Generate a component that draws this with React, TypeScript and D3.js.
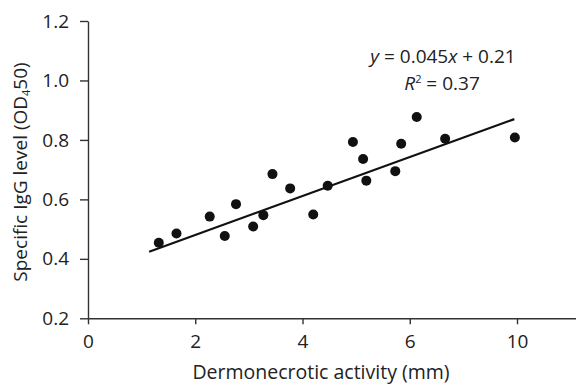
import React, { useEffect, useRef } from 'react';
import * as d3 from 'd3';

// values
const activity = [1.32, 1.65, 2.27, 2.55, 2.76, 3.08, 3.27, 3.44, 3.77, 4.2, 4.47, 4.94, 5.13, 5.19, 5.73, 5.84, 6.13, 6.66, 7.96];
const iggLevel = [0.454, 0.485, 0.542, 0.477, 0.584, 0.509, 0.547, 0.685, 0.637, 0.549, 0.646, 0.793, 0.736, 0.663, 0.695, 0.787, 0.877, 0.804, 0.808];
const trendX = [1.14, 7.95];
const trendY = [0.424, 0.870];
const xTicks = [0, 2, 4, 6, 8];
const xTickLabels = ['0', '2', '4', '6', '10'];
const yTicks = [0.2, 0.4, 0.6, 0.8, 1.0, 1.2];

const WIDTH = 576;
const HEIGHT = 385;
const FONT = '"Open Sans", "Noto Sans", sans-serif';
const INK = '#222';

const App = () => {
  const ref = useRef<SVGSVGElement>(null);

  useEffect(() => {
    const svg = d3.select(ref.current);
    svg.selectAll('*').remove();

    const x = d3.scaleLinear().domain([0, 9.1]).range([88, 576]);
    const y = d3.scaleLinear().domain([0.2, 1.2]).range([318.3, 21]);

    // x axis
    const xAxis = svg.append('g')
      .attr('transform', `translate(0, ${y(0.2)})`)
      .call(d3.axisBottom(x)
        .tickValues(xTicks)
        .tickFormat((_, i) => xTickLabels[i])
        .tickSize(6)
        .tickPadding(10)
        .tickSizeOuter(0));

    // y axis
    const yAxis = svg.append('g')
      .attr('transform', `translate(${x(0)}, 0)`)
      .call(d3.axisLeft(y)
        .tickValues(yTicks)
        .tickFormat(d3.format('.1f'))
        .tickSize(8)
        .tickPadding(11)
        .tickSizeOuter(0));

    [xAxis, yAxis].forEach(a => {
      a.select('.domain').attr('stroke', '#333').attr('stroke-width', 1.4);
      a.selectAll('.tick line').attr('stroke', '#333').attr('stroke-width', 1.4);
      a.selectAll('.tick text')
        .style('font-family', FONT)
        .style('font-size', '19px')
        .attr('fill', INK);
    });

    // axis titles
    svg.append('text')
      .attr('x', 321)
      .attr('y', 379)
      .attr('text-anchor', 'middle')
      .style('font-family', FONT)
      .style('font-size', '19.5px')
      .attr('fill', INK)
      .text('Dermonecrotic activity (mm)');

    const yTitle = svg.append('text')
      .attr('transform', 'translate(26.5, 172) rotate(-90)')
      .attr('text-anchor', 'middle')
      .style('font-family', FONT)
      .style('font-size', '19px')
      .attr('fill', INK);
    yTitle.append('tspan').text('Specific IgG level (OD');
    yTitle.append('tspan').attr('dy', 3).style('font-size', '11px').text('4');
    yTitle.append('tspan').attr('dy', -3).text('50)');

    // trend line
    svg.append('line')
      .attr('x1', x(trendX[0]))
      .attr('y1', y(trendY[0]))
      .attr('x2', x(trendX[1]))
      .attr('y2', y(trendY[1]))
      .attr('stroke', '#111')
      .attr('stroke-width', 2.2);

    // points
    svg.append('g')
      .selectAll('circle')
      .data(activity)
      .enter()
      .append('circle')
      .attr('cx', d => x(d))
      .attr('cy', (_, i) => y(iggLevel[i]))
      .attr('r', 5)
      .attr('fill', '#111');

    // equation
    const eq = svg.append('text')
      .attr('x', 443)
      .attr('y', 63)
      .attr('text-anchor', 'middle')
      .style('font-family', FONT)
      .style('font-size', '19px')
      .attr('fill', INK);
    eq.append('tspan').style('font-style', 'italic').text('y');
    eq.append('tspan').text(' = 0.045');
    eq.append('tspan').style('font-style', 'italic').text('x');
    eq.append('tspan').text(' + 0.21');

    const r2 = svg.append('text')
      .attr('x', 442)
      .attr('y', 90)
      .attr('text-anchor', 'middle')
      .style('font-family', FONT)
      .style('font-size', '19px')
      .attr('fill', INK);
    r2.append('tspan').style('font-style', 'italic').text('R');
    r2.append('tspan').attr('dy', -7).style('font-size', '11px').text('2');
    r2.append('tspan').attr('dy', 7).text(' = 0.37');
  }, []);

  return (
    <svg
      ref={ref}
      width={WIDTH}
      height={HEIGHT}
      style={{ position: 'absolute', left: 0, top: 0, background: '#fff' }}
    />
  );
};

export default App;
